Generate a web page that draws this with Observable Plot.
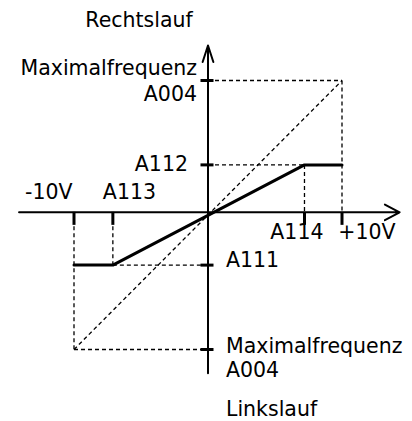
<!DOCTYPE html>
<html><head><meta charset="utf-8">
<script src="https://cdn.jsdelivr.net/npm/d3@7"></script>
<script src="https://cdn.jsdelivr.net/npm/@observablehq/plot@0.6"></script>
<style>body{margin:0;background:#fff}</style>
</head><body><div id="chart"></div>
<script>
// ---- values ----
const voltMin = -10, voltMax = 10;        // -10V / +10V
const freqMax = 100;                      // Maximalfrequenz A004 (Rechtslauf)
const freqMin = -104;                     // Maximalfrequenz A004 (Linkslauf)
const A113 = -7.1, A114 = 7.2;            // start / end voltage
const A111 = -40,  A112 = 36;             // start / end frequency
const xAxisExtent = [-14.1, 14.3];
const yAxisExtent = [-122, 126.5];
const curveX = [voltMin, A113, A114, voltMax];
const curveY = [A111, A111, A112, A112];
const xTickValues = [voltMin, A113, A114, voltMax];
const yTickValues = [freqMax, A112, A111, freqMin];
const titleTop = "Rechtslauf", titleBottom = "Linkslauf";
const maxLabel = ["Maximalfrequenz", "A004"];

const curve = curveX.map((x, i) => ({x, y: curveY[i]}));
const guides = [
  {x1: voltMin, y1: freqMin, x2: voltMax, y2: freqMax},
  {x1: 0, y1: freqMax, x2: voltMax, y2: freqMax},
  {x1: voltMax, y1: freqMax, x2: voltMax, y2: 0},
  {x1: 0, y1: A112, x2: A114, y2: A112},
  {x1: A114, y1: A112, x2: A114, y2: 0},
  {x1: voltMin, y1: 0, x2: voltMin, y2: freqMin},
  {x1: voltMin, y1: freqMin, x2: 0, y2: freqMin},
  {x1: A113, y1: 0, x2: A113, y2: A111},
  {x1: A113, y1: A111, x2: 0, y2: A111}
];
const font = {fontFamily: "DejaVu Sans", fontSize: 20.5, fill: "black", lineAnchor: "bottom"};
const one = (t, x, y, opts) => Plot.text([t], {x: () => x, y: () => y, text: d => d, ...font, ...opts});

const chart = Plot.plot({
  width: 412, height: 421, margin: 0,
  x: {domain: [voltMin, voltMax], range: [73.5, 341.5], axis: null},
  y: {domain: [freqMin, freqMax], range: [349, 80], axis: null},
  style: {background: "white"},
  marks: [
    Plot.link(guides, {x1: "x1", y1: "y1", x2: "x2", y2: "y2", stroke: "black", strokeWidth: 1.3, strokeDasharray: "4,3"}),
    Plot.arrow([0], {x1: () => xAxisExtent[0], x2: () => xAxisExtent[1], y1: () => 0, y2: () => 0, stroke: "black", strokeWidth: 2, headLength: 12.5, headAngle: 56}),
    Plot.arrow([0], {x1: () => 0, x2: () => 0, y1: () => yAxisExtent[0], y2: () => yAxisExtent[1], stroke: "black", strokeWidth: 2, headLength: 13, headAngle: 36}),
    Plot.ruleX(xTickValues, {x1: d => d, x2: d => d, y1: () => 0, y2: () => 0, insetBottom: -13, stroke: "black", strokeWidth: 3}),
    Plot.ruleY(yTickValues, {y: d => d, x1: () => 0, x2: () => 0, insetLeft: -7, insetRight: -6, stroke: "black", strokeWidth: 3}),
    Plot.line(curve, {x: "x", y: "y", stroke: "black", strokeWidth: 3}),
    one(titleTop, 0, yAxisExtent[1], {textAnchor: "end", dx: -15.3, dy: -18.3}),
    one(maxLabel[0], 0, freqMax, {textAnchor: "end", dx: -11, dy: -6}),
    one(maxLabel[1], 0, freqMax, {textAnchor: "end", dx: -11, dy: 20.7}),
    one("A112", 0, A112, {textAnchor: "end", dx: -20, dy: 6.4}),
    one("A111", 0, A111, {textAnchor: "start", dx: 18, dy: 1.7}),
    one("-10V", voltMin, 0, {textAnchor: "end", dx: -1.5, dy: -13}),
    one("A113", A113, 0, {textAnchor: "start", dx: -10, dy: -13}),
    one("A114", A114, 0, {textAnchor: "end", dx: 19, dy: 26.3}),
    one("+10V", voltMax, 0, {textAnchor: "start", dx: -3.7, dy: 26.3}),
    one(maxLabel[0], 0, freqMin, {textAnchor: "start", dx: 18, dy: 3.7}),
    one(maxLabel[1], 0, freqMin, {textAnchor: "start", dx: 18, dy: 27.7}),
    one(titleBottom, 0, yAxisExtent[0], {textAnchor: "start", dx: 18, dy: 43})
  ]
});
document.getElementById("chart").appendChild(chart);
</script>
</body></html>
